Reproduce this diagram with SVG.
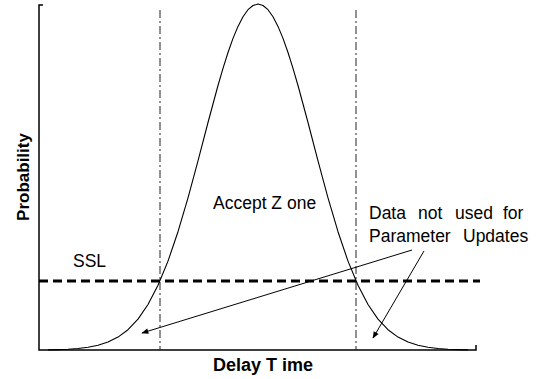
<svg xmlns="http://www.w3.org/2000/svg" width="538" height="379" viewBox="0 0 538 379">
<style>
  .axis{stroke:#000;stroke-width:1.5;fill:none}
  .bound{stroke:#222;stroke-width:1;stroke-dasharray:8 3 2 3;fill:none}
  .ssl{stroke:#000;stroke-width:3;stroke-dasharray:9 5;fill:none}
  .curve{stroke:#000;stroke-width:1.1;fill:none;stroke-linejoin:round}
  .arrow{stroke:#000;stroke-width:1;fill:none;marker-end:url(#ah)}
  text{font-family:"Liberation Sans",Arial,sans-serif;fill:#000}
  .lbl{font-size:17.5px}
  .ax{font-size:18px;font-weight:bold}
</style>
<defs>
  <marker id="ah" viewBox="0 0 10 10" refX="9" refY="5" markerWidth="8" markerHeight="7" orient="auto" markerUnits="userSpaceOnUse">
    <path d="M0,1 L10,5 L0,9 Z" fill="#000"/>
  </marker>
</defs>
<rect width="538" height="379" fill="#fff"/>
<g id="axes">
  <path class="axis" d="M43,5 H39 V350 H476 V345"/>
  <text class="ax" style="font-size:17px" transform="translate(29,177) rotate(-90)" text-anchor="middle">Probability</text>
  <text class="ax" x="213" y="371">Delay T ime</text>
</g>
<g id="bounds">
  <line class="bound" x1="160" y1="10" x2="160" y2="350"/>
  <line class="bound" x1="356" y1="10" x2="356" y2="350"/>
</g>
<g id="ssl-level">
  <line class="ssl" x1="39" y1="281" x2="480" y2="281"/>
  <text class="lbl" x="73" y="267">SSL</text>
</g>
<g id="distribution">
  <polyline class="curve" points="48,349.9 58,349.6 68,349.2 78,348.5 88,347.3 98,345.3 108,342.1 118,337.1 128,329.7 138,319.1 148,304.5 158,285.3 168,261.1 178,231.7 188,197.9 198,160.8 208,122.5 218,85.5 223,68.3 228,52.5 233,38.4 238,26.4 243,16.8 248,9.7 253,5.5 258,4 263,5.5 268,9.7 273,16.8 278,26.4 283,38.4 288,52.5 293,68.3 298,85.5 308,122.5 318,160.8 328,197.9 338,231.7 348,261.1 358,285.3 368,304.5 378,319.1 388,329.7 398,337.1 408,342.1 418,345.3 428,347.3 438,348.5 448,349.2 458,349.6 468,349.9"/>
</g>
<g id="labels">
  <text class="lbl" x="213" y="209">Accept Z one</text>
  <text class="lbl" y="219"><tspan x="369">Data</tspan><tspan x="418">not</tspan><tspan x="455">used</tspan><tspan x="503">for</tspan></text>
  <text class="lbl" y="242"><tspan x="369">Parameter</tspan><tspan x="463">Updates</tspan></text>
</g>
<g id="connectors">
  <path class="arrow" d="M412,250 L142,333"/>
  <path class="arrow" d="M424,251 L373,338"/>
</g>
</svg>
